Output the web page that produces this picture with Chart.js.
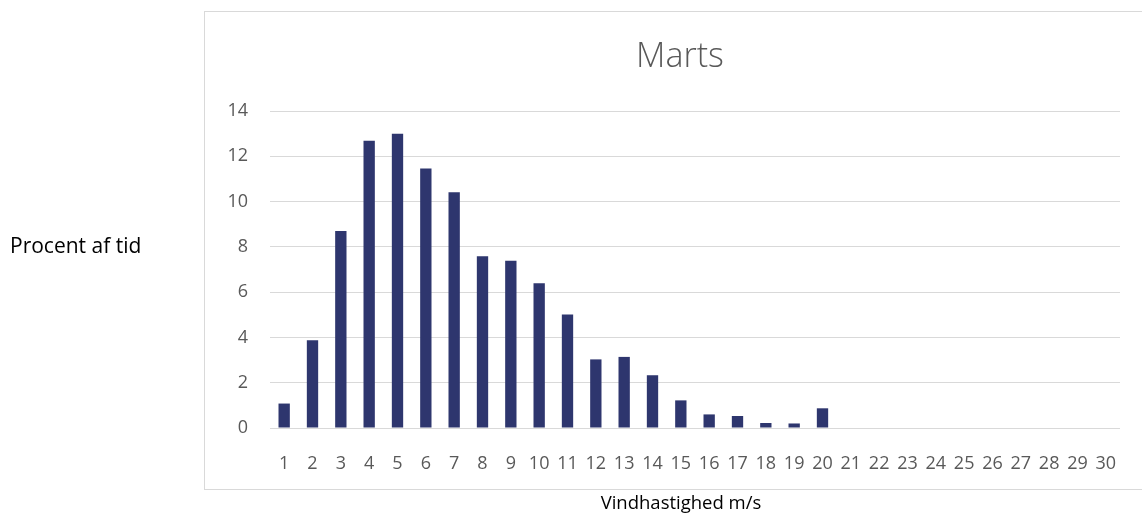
<!DOCTYPE html>
<html lang="da">
<head>
<meta charset="UTF-8">
<title>Marts</title>
<script src="https://cdn.jsdelivr.net/npm/chart.js"></script>
<style>
  html, body { margin: 0; padding: 0; background: #fff; }
  #wrap { position: relative; width: 1142px; height: 519px; }
</style>
</head>
<body>
<div id="wrap"><canvas id="martsChart"></canvas></div>
<script>
// vindhastighed (m/s) og procent af tid
const windSpeeds = ['1', '2', '3', '4', '5', '6', '7', '8', '9', '10',
  '11', '12', '13', '14', '15', '16', '17', '18', '19', '20',
  '21', '22', '23', '24', '25', '26', '27', '28', '29', '30'];
const percentTime = [1.08, 3.87, 8.70, 12.69, 13.00, 11.46, 10.41, 7.58, 7.39, 6.39,
  5.01, 3.03, 3.14, 2.33, 1.22, 0.60, 0.53, 0.22, 0.20, 0.87,
  0, 0, 0, 0, 0, 0, 0, 0, 0, 0];
const yTicks = [0, 2, 4, 6, 8, 10, 12, 14];

const chartTitle = 'Marts';
const yLabel = 'Procent af tid';
const xLabel = 'Vindhastighed m/s';

const fontFamily = '"Open Sans", "Noto Sans", sans-serif';

// the chart frame (Excel style, wider than the plot) + title and axis labels
const framePlugin = {
  id: 'frame',
  beforeDraw(chart) {
    const ctx = chart.ctx;
    ctx.save();
    ctx.strokeStyle = '#d9d9d9';
    ctx.lineWidth = 1;
    ctx.strokeRect(204.5, 11.5, 1000, 478);
    ctx.restore();
  },
  afterDraw(chart) {
    const ctx = chart.ctx;
    ctx.save();
    ctx.textBaseline = 'middle';
    ctx.textAlign = 'center';
    ctx.fillStyle = '#595959';
    ctx.font = '300 34px ' + fontFamily;
    ctx.fillText(chartTitle, 680, 57);

    ctx.fillStyle = '#000';
    ctx.font = '21px ' + fontFamily;
    ctx.textAlign = 'left';
    ctx.fillText(yLabel, 10, 247);
    ctx.textAlign = 'center';
    ctx.font = '18.5px ' + fontFamily;
    ctx.fillText(xLabel, 681, 504);
    ctx.restore();
  }
};

new Chart(document.getElementById('martsChart'), {
  type: 'bar',
  data: {
    labels: windSpeeds,
    datasets: [{
      label: 'Procent af tid',
      data: percentTime,
      backgroundColor: '#2e366e',
      barPercentage: 0.4,
      categoryPercentage: 1.0
    }]
  },
  options: {
    responsive: true,
    maintainAspectRatio: false,
    animation: false,
    layout: { padding: { left: 0, right: 22, top: 111, bottom: 0 } },
    plugins: {
      legend: { display: false },
      tooltip: { enabled: false },
      title: { display: false }
    },
    scales: {
      x: {
        grid: { display: false },
        border: { display: false },
        ticks: {
          color: '#595959',
          font: { family: fontFamily, size: 18 },
          padding: 17,
          maxRotation: 0,
          autoSkip: false
        },
        afterFit(scale) { scale.height = 91; }
      },
      y: {
        min: 0,
        max: 14,
        afterBuildTicks(scale) { scale.ticks = yTicks.map(v => ({ value: v })); },
        grid: { color: '#d9d9d9', lineWidth: 1, drawTicks: false },
        border: { display: false },
        ticks: {
          color: '#595959',
          font: { family: fontFamily, size: 18 },
          padding: 22
        },
        afterFit(scale) { scale.width = 270; }
      }
    }
  },
  plugins: [framePlugin]
});
</script>
</body>
</html>
